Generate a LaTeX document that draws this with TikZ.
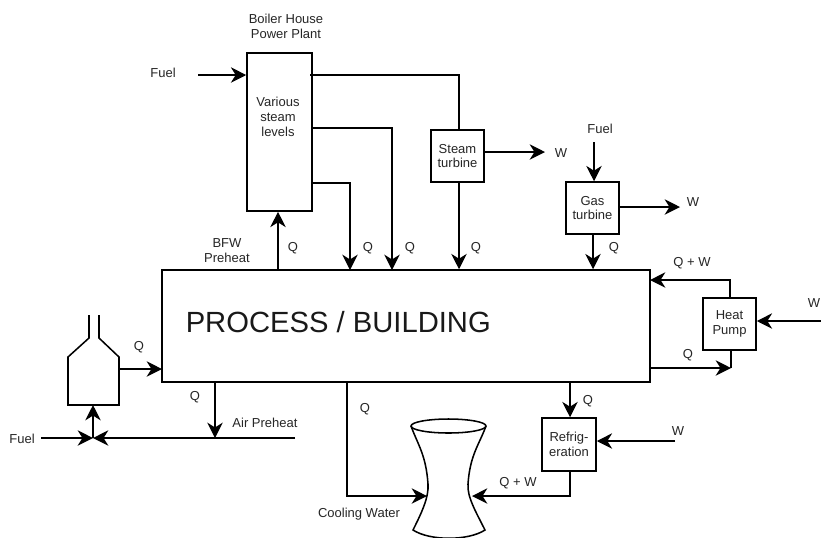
\documentclass[tikz,border=0pt]{standalone}
\usepackage{fontspec}
\setmainfont{Liberation Sans}
\usetikzlibrary{arrows.meta}
\begin{document}
\begin{tikzpicture}[x=0.75pt,y=-0.75pt,line width=1.15pt,
  arr/.style={-{Stealth[length=11.5pt,width=11.5pt,inset=3.6pt]}},
  box/.style={draw,inner sep=0pt,align=center,font=\fontsize{9.75}{11.2}\selectfont,text=black!85},
  lbl/.style={inner sep=0pt,align=center,font=\fontsize{9.75}{11.2}\selectfont,text=black!85}]
\useasboundingbox (0,0) rectangle (821,537);
\fill[white] (0,0) rectangle (821,537);
% boxes
\node[box,minimum width=366pt,minimum height=84pt] (proc) at (406,326) {};
\node[inner sep=0pt,anchor=west,font=\fontsize{21.9}{26}\selectfont,text=black!90] (proctext) at (185,322) {PROCESS / BUILDING};
\node[box,minimum width=48.75pt,minimum height=118.5pt] (boiler) at (279.5,132) {};
\node[lbl] (levels) at (278,117) {Various\\steam\\levels};
\node[box,minimum width=39.75pt,minimum height=39pt] (steam) at (457.5,156) {Steam\\turbine};
\node[box,minimum width=39.75pt,minimum height=39pt] (gas) at (592.5,208) {Gas\\turbine};
\node[box,minimum width=39.75pt,minimum height=39pt] (hp) at (729.5,324) {Heat\\Pump};
\node[box,minimum width=40.5pt,minimum height=39.75pt] (refrig) at (569,444.5) {Refrig-\\eration};
% labels
\node[lbl] (t1) at (286,26) {Boiler House\\Power Plant};
\node[lbl] (t2) at (163,73) {Fuel};
\node[lbl] (t3) at (227,251) {BFW\\Preheat};
\node[lbl] (q1) at (293,248) {Q};
\node[lbl] (q2) at (368,248) {Q};
\node[lbl] (q3) at (410,248) {Q};
\node[lbl] (q4) at (476,248) {Q};
\node[lbl] (q5) at (614,248) {Q};
\node[lbl] (w1) at (561,153) {W};
\node[lbl] (f2) at (600,129) {Fuel};
\node[lbl] (w2) at (693,202) {W};
\node[lbl] (qw1) at (692,263) {Q + W};
\node[lbl] (w3) at (814,303) {W};
\node[lbl] (q6) at (688,355) {Q};
\node[lbl] (q7) at (139,347) {Q};
\node[lbl] (q8) at (195,397) {Q};
\node[lbl] (q9) at (365,409) {Q};
\node[lbl] (q10) at (588,401) {Q};
\node[lbl] (w4) at (678,431) {W};
\node[lbl] (qw2) at (518,483) {Q + W};
\node[lbl] (air) at (265,423) {Air Preheat};
\node[lbl] (cw) at (359,514) {Cooling Water};
\node[lbl] (f1) at (22,439) {Fuel};
% free ends
\coordinate (fuelA) at (198,75);
\coordinate (b1) at (310,75);
\coordinate (b2) at (312,128);
\coordinate (b3) at (312,183);
\coordinate (x2) at (392,270);
\coordinate (x3) at (350,270);
\coordinate (bfw) at (278,270);
\coordinate (stX) at (459,130);
\coordinate (stW) at (545,152);
\coordinate (gasFuel) at (594,142);
\coordinate (gasW) at (680,207);
\coordinate (gasQ) at (593,234);
\coordinate (hpT) at (730,298);
\coordinate (hpQ) at (650,280);
\coordinate (hpW) at (821,321);
\coordinate (hpO) at (650,368);
\coordinate (hpB) at (731,368);
\coordinate (refW) at (675,441);
\coordinate (refB) at (570,496);
\coordinate (twrR) at (472,496);
\coordinate (twrL) at (427,496);
\coordinate (cwO) at (347,382);
\coordinate (fuC) at (119,369);
\coordinate (fuP) at (162,369);
\coordinate (jct) at (93,438);
\coordinate (fuL) at (41,438);
\coordinate (airR) at (295,438);
\coordinate (airQ) at (215,382);
\coordinate (airE) at (215,438);
\coordinate (furB) at (93,405);
% furnace
\draw[line join=miter] (89,315) -- (89,338) -- (68,357) -- (68,405) -- (119,405) -- (119,357) -- (99,338) -- (99,315);
% cooling tower
\draw (448.5,426) ellipse[x radius=37.5,y radius=7];
\draw (411,426) .. controls (418,445) and (426,455) .. (428,484) .. controls (429,497) and (422,512) .. (413,530) .. controls (430,541) and (468,541) .. (485,530) .. controls (476,512) and (467,497) .. (468,484) .. controls (470,455) and (479,445) .. (486,426);
% connectors
\draw[arr] (fuelA) -- (boiler.west |- fuelA);
\draw (b1) -| (stX);
\draw[arr] (steam.south -| stX) -- (stX |- proc.north);
\draw[arr] (b2) -| (x2);
\draw[arr] (b3) -| (x3);
\draw[arr] (bfw) -- (boiler.south -| bfw);
\draw[arr] (steam.east |- stW) -- (stW);
\draw[arr] (gasFuel) -- (gas.north -| gasFuel);
\draw[arr] (gas.east |- gasW) -- (gasW);
\draw[arr] (gasQ) -- (gasQ |- proc.north);
\draw[arr] (hpT) |- (hpQ);
\draw[arr] (hpW) -- (hp.east |- hpW);
\draw[arr] (hpO) -- (hpB);
\draw (hp.south -| hpB) -- (hpB);
\draw[arr] (proc.south -| refB) -- (refB |- refrig.north);
\draw[arr] (refW) -- (refrig.east |- refW);
\draw[arr] (refrig.south -| refB) |- (twrR);
\draw[arr] (cwO) |- (twrL);
\draw[arr] (fuC) -- (fuP);
\draw[arr] (fuL) -- (jct);
\draw[arr] (airR) -- (jct);
\draw[arr] (jct) -- (furB);
\draw[arr] (airQ) -- (airE);
\end{tikzpicture}
\end{document}
